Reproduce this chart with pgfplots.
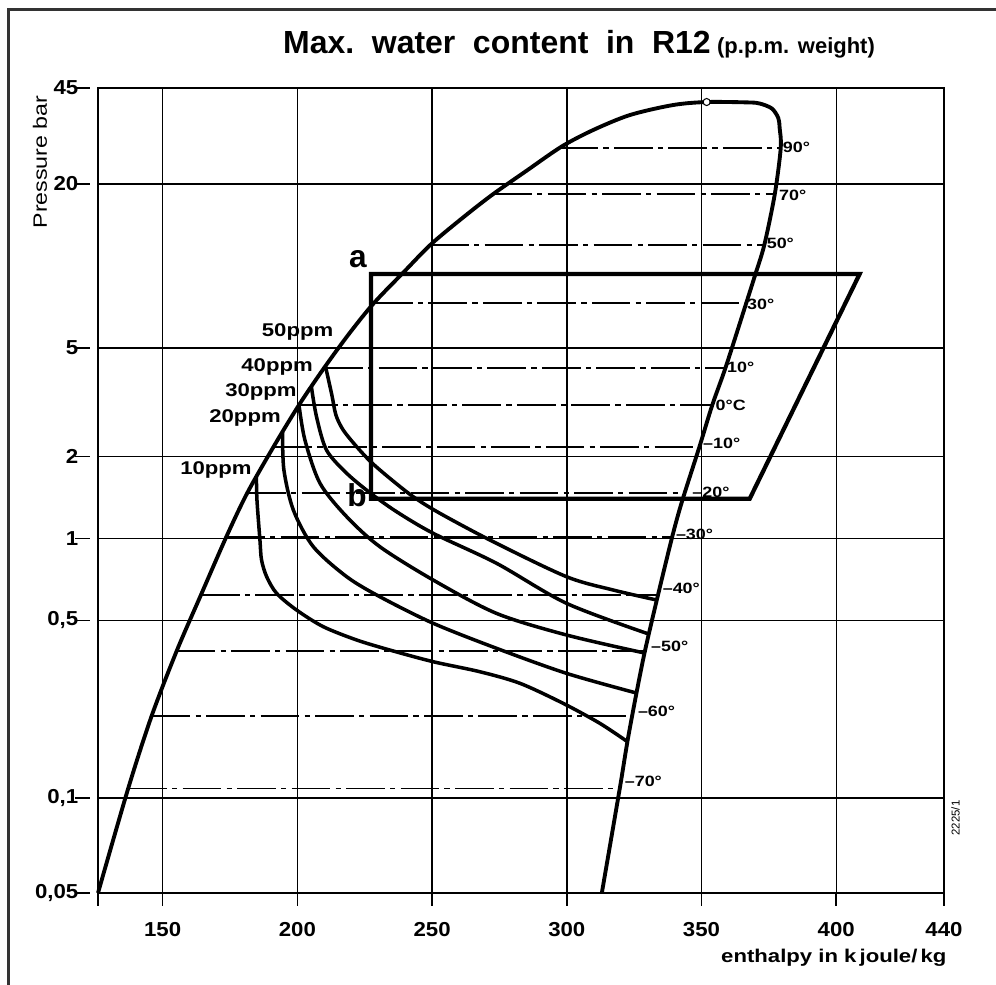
\documentclass[border=0pt]{standalone}
\usepackage{pgfplots}
\pgfplotsset{compat=1.18}
\usepackage{fontspec}
\setmainfont{Liberation Sans}
\newfontfamily\wide[FakeStretch=1.2]{Liberation Sans}
\newfontfamily\tickfont[FakeStretch=1.1]{Liberation Sans}

\tikzset{
    isot/.style={black, line width=0.7pt, dash pattern=on 22pt off 3pt on 3pt off 3pt},
    ppm/.style={black, line width=2pt, smooth},
    tlab/.style={anchor=west, inner sep=0pt, font=\wide\bfseries\fontsize{8.5}{10}\selectfont},
    plab/.style={anchor=west, inner sep=0pt, font=\wide\bfseries\fontsize{10.5}{12}\selectfont},
}

\begin{document}
\begin{tikzpicture}
\begin{axis}[
    at={(0,0)}, anchor=south west,
    scale only axis, width=16.92cm, height=16.1cm,
    xmin=126, xmax=440,
    ymode=log, ymin=0.05, ymax=45,
    clip=false,
    axis line style={line width=0.9pt},
    grid=major,
    major grid style={black, line width=0.8pt},
    xtick={126,150,200,250,300,350,400,440},
    xticklabels={,150,200,250,300,350,400,440},
    % the 0,1 line sits a little high on the original sheet
    ytick={0.05,0.1116,0.5,1,2,5,20,45},
    yticklabels={{0,05},{0,1},{0,5},1,2,5,20,45},
    tick pos=left, tick align=outside,
    major tick length=0.46cm,
    x tick style={black, line width=0.9pt, dash pattern=on 0pt off 0.2cm on 0.26cm off 2cm},
    y tick style={black, line width=0.9pt, dash pattern=on 0.3cm off 2cm},
    xticklabel style={font=\tickfont\bfseries\fontsize{11.5}{13}\selectfont},
    yticklabel style={font=\tickfont\bfseries\fontsize{11.5}{13}\selectfont, xshift=0.19cm},
]
% isotherms, liquid line to vapour line
\addplot[isot] coordinates {(297.3,27.1) (379.4,27.1)};
\addplot[isot] coordinates {(272.7,18.37) (377.2,18.37)};
\addplot[isot] coordinates {(249.3,11.94) (373.3,11.94)};
\addplot[isot] coordinates {(228.4,7.31) (366.6,7.31)};
\addplot[isot] coordinates {(209.9,4.223) (358.6,4.223)};
\addplot[isot] coordinates {(200.6,3.09) (354.0,3.09)};
\addplot[isot] coordinates {(191.1,2.166) (349.2,2.166)};
\addplot[isot] coordinates {(181.4,1.469) (343.7,1.469)};
\addplot[isot] coordinates {(173.6,1.0125) (339.1,1.0125)};
\addplot[isot] coordinates {(164.2,0.6203) (333.8,0.6203)};
\addplot[isot] coordinates {(155.2,0.3865) (329.0,0.3865)};
\addplot[isot] coordinates {(145.9,0.2231) (324.3,0.2231)};
\addplot[isot] coordinates {(137.2,0.1209) (319.6,0.1209)};

% saturation curve
\addplot[black, line width=2.2pt, smooth] coordinates {
    (126,0.05) (137.2,0.1209) (145.9,0.2231) (155.2,0.3865) (164.2,0.6203)
    (173.6,1.0125) (181.4,1.469) (191.1,2.166) (200.6,3.09) (209.9,4.223)
    (219.4,5.675) (228.4,7.31) (239.7,9.544) (249.7,12.04) (262.2,15.26)
    (272.7,18.37) (285.2,22.41) (298.1,27.44) (309.8,31.55)
    (323.4,35.8) (339.4,38.96) (351.9,39.97)
    (367.3,39.83) (371.6,39.47) (376.1,37.84) (378.5,34.91) (379.0,32.08)
    (379.4,27.1) (377.2,18.37) (373.3,11.94) (369.9,9.27) (366.6,7.31)
    (359.0,4.26) (354.0,3.09) (349.2,2.166) (342.8,1.372) (339.1,1.0125)
    (333.4,0.5944) (329.0,0.3865) (326.0,0.2756) (322.6,0.1822) (320.0,0.1267)
    (316.0,0.0744) (313.0,0.05)
};
\addplot[only marks, mark=*, mark size=2pt, mark options={fill=white, draw=black, line width=0.6pt}]
    coordinates {(351.9,39.97)};

% water content curves, 50 to 10 ppm
\addplot[ppm] coordinates {
    (210.4,4.295) (212.8,3.361) (214.3,2.839) (217.0,2.501) (222.0,2.172)
    (227.3,1.909) (234.3,1.663) (243.0,1.423) (252.9,1.237) (272.7,0.973)
    (299.9,0.724) (317.2,0.647) (333.4,0.5944)
};
\addplot[ppm] coordinates {
    (205.2,3.606) (207.1,2.798) (210.8,2.112) (218.3,1.735) (227.2,1.465)
    (236.8,1.254) (250.4,1.0447) (273.9,0.811) (299.9,0.578) (330.4,0.4461)
};
\addplot[ppm] coordinates {
    (200.6,3.09) (202.8,2.298) (208.4,1.594) (218.3,1.202) (230.6,0.933)
    (250.4,0.704) (273.9,0.531) (299.9,0.4423) (328.8,0.380)
};
\addplot[ppm] coordinates {
    (194.5,2.459) (195.0,1.784) (198.5,1.272) (205.9,0.933) (218.3,0.724)
    (230.6,0.6114) (250.4,0.4884) (273.9,0.3954) (299.9,0.3199) (325.8,0.271)
};
\addplot[ppm] coordinates {
    (184.8,1.685) (185.0,1.384) (186.1,0.987) (186.7,0.834) (188.6,0.724)
    (192.3,0.629) (199.7,0.5463) (209.6,0.4746) (222.0,0.4241) (234.3,0.3897)
    (250.4,0.353) (267.7,0.3244) (282.6,0.2941) (298.6,0.2484) (312.2,0.2099)
    (322.5,0.1796)
};

% cycle a-b
\addplot[black, line width=2.4pt, line join=miter, line cap=rect] coordinates {
    (227.3,9.35) (408.7,9.35) (367.9,1.40) (227.3,1.40) (227.3,9.35)
};

\node[font=\bfseries\fontsize{18}{20}\selectfont] at (axis cs:222.5,10.61) {a};
\node[font=\bfseries\fontsize{18}{20}\selectfont] at (axis cs:222.1,1.444) {b};

\node[plab] at (axis cs:186.7,5.74) {50ppm};
\node[plab] at (axis cs:179.1,4.27) {40ppm};
\node[plab] at (axis cs:173.1,3.456) {30ppm};
\node[plab] at (axis cs:167.2,2.768) {20ppm};
\node[plab] at (axis cs:156.4,1.784) {10ppm};

\node[tlab] at (axis cs:380.1,27.16) {90°};
\node[tlab] at (axis cs:378.7,18.14) {70°};
\node[tlab] at (axis cs:374.1,12.14) {50°};
\node[tlab] at (axis cs:366.8,7.25) {30°};
\node[tlab] at (axis cs:359.4,4.26) {10°};
\node[tlab] at (axis cs:355.1,3.09) {0°C};
\node[tlab] at (axis cs:350.5,2.240) {\textendash10°};
\node[tlab] at (axis cs:346.5,1.481) {\textendash20°};
\node[tlab] at (axis cs:340.4,1.038) {\textendash30°};
\node[tlab] at (axis cs:335.5,0.655) {\textendash40°};
\node[tlab] at (axis cs:331.2,0.403) {\textendash50°};
\node[tlab] at (axis cs:326.3,0.2313) {\textendash60°};
\node[tlab] at (axis cs:321.4,0.128) {\textendash70°};

\node[anchor=base west, inner sep=0pt] at (axis cs:194.6,60.33)
    {\bfseries\fontsize{18.2}{20}\selectfont
     Max.\hspace{0.55em}water\hspace{0.55em}content\hspace{0.55em}in\hspace{0.55em}R12\hspace{0.2em}%
     \fontsize{12.5}{14}\selectfont (p.p.m.\hspace{0.4em}weight)};
\node[rotate=90, font=\wide\fontsize{11}{13}\selectfont] at (axis cs:104.5,24.07) {Pressure bar};
\node[anchor=east, inner sep=0pt, font=\wide\bfseries\fontsize{10.5}{12}\selectfont]
    at (axis cs:441.0,0.02887) {enthalpy in k\,joule/\,kg};
\node[rotate=90, font=\fontsize{6.5}{8}\selectfont] at (axis cs:444.3,0.0942) {2225/1};
\end{axis}
% frame
\draw[line width=0.06cm, black!80] (-1.78,-1.84) -- (-1.78,17.66) -- (17.96,17.66);
\pgfresetboundingbox
\useasboundingbox (-1.96,-1.84) rectangle (17.96,17.86);
\end{tikzpicture}
\end{document}
